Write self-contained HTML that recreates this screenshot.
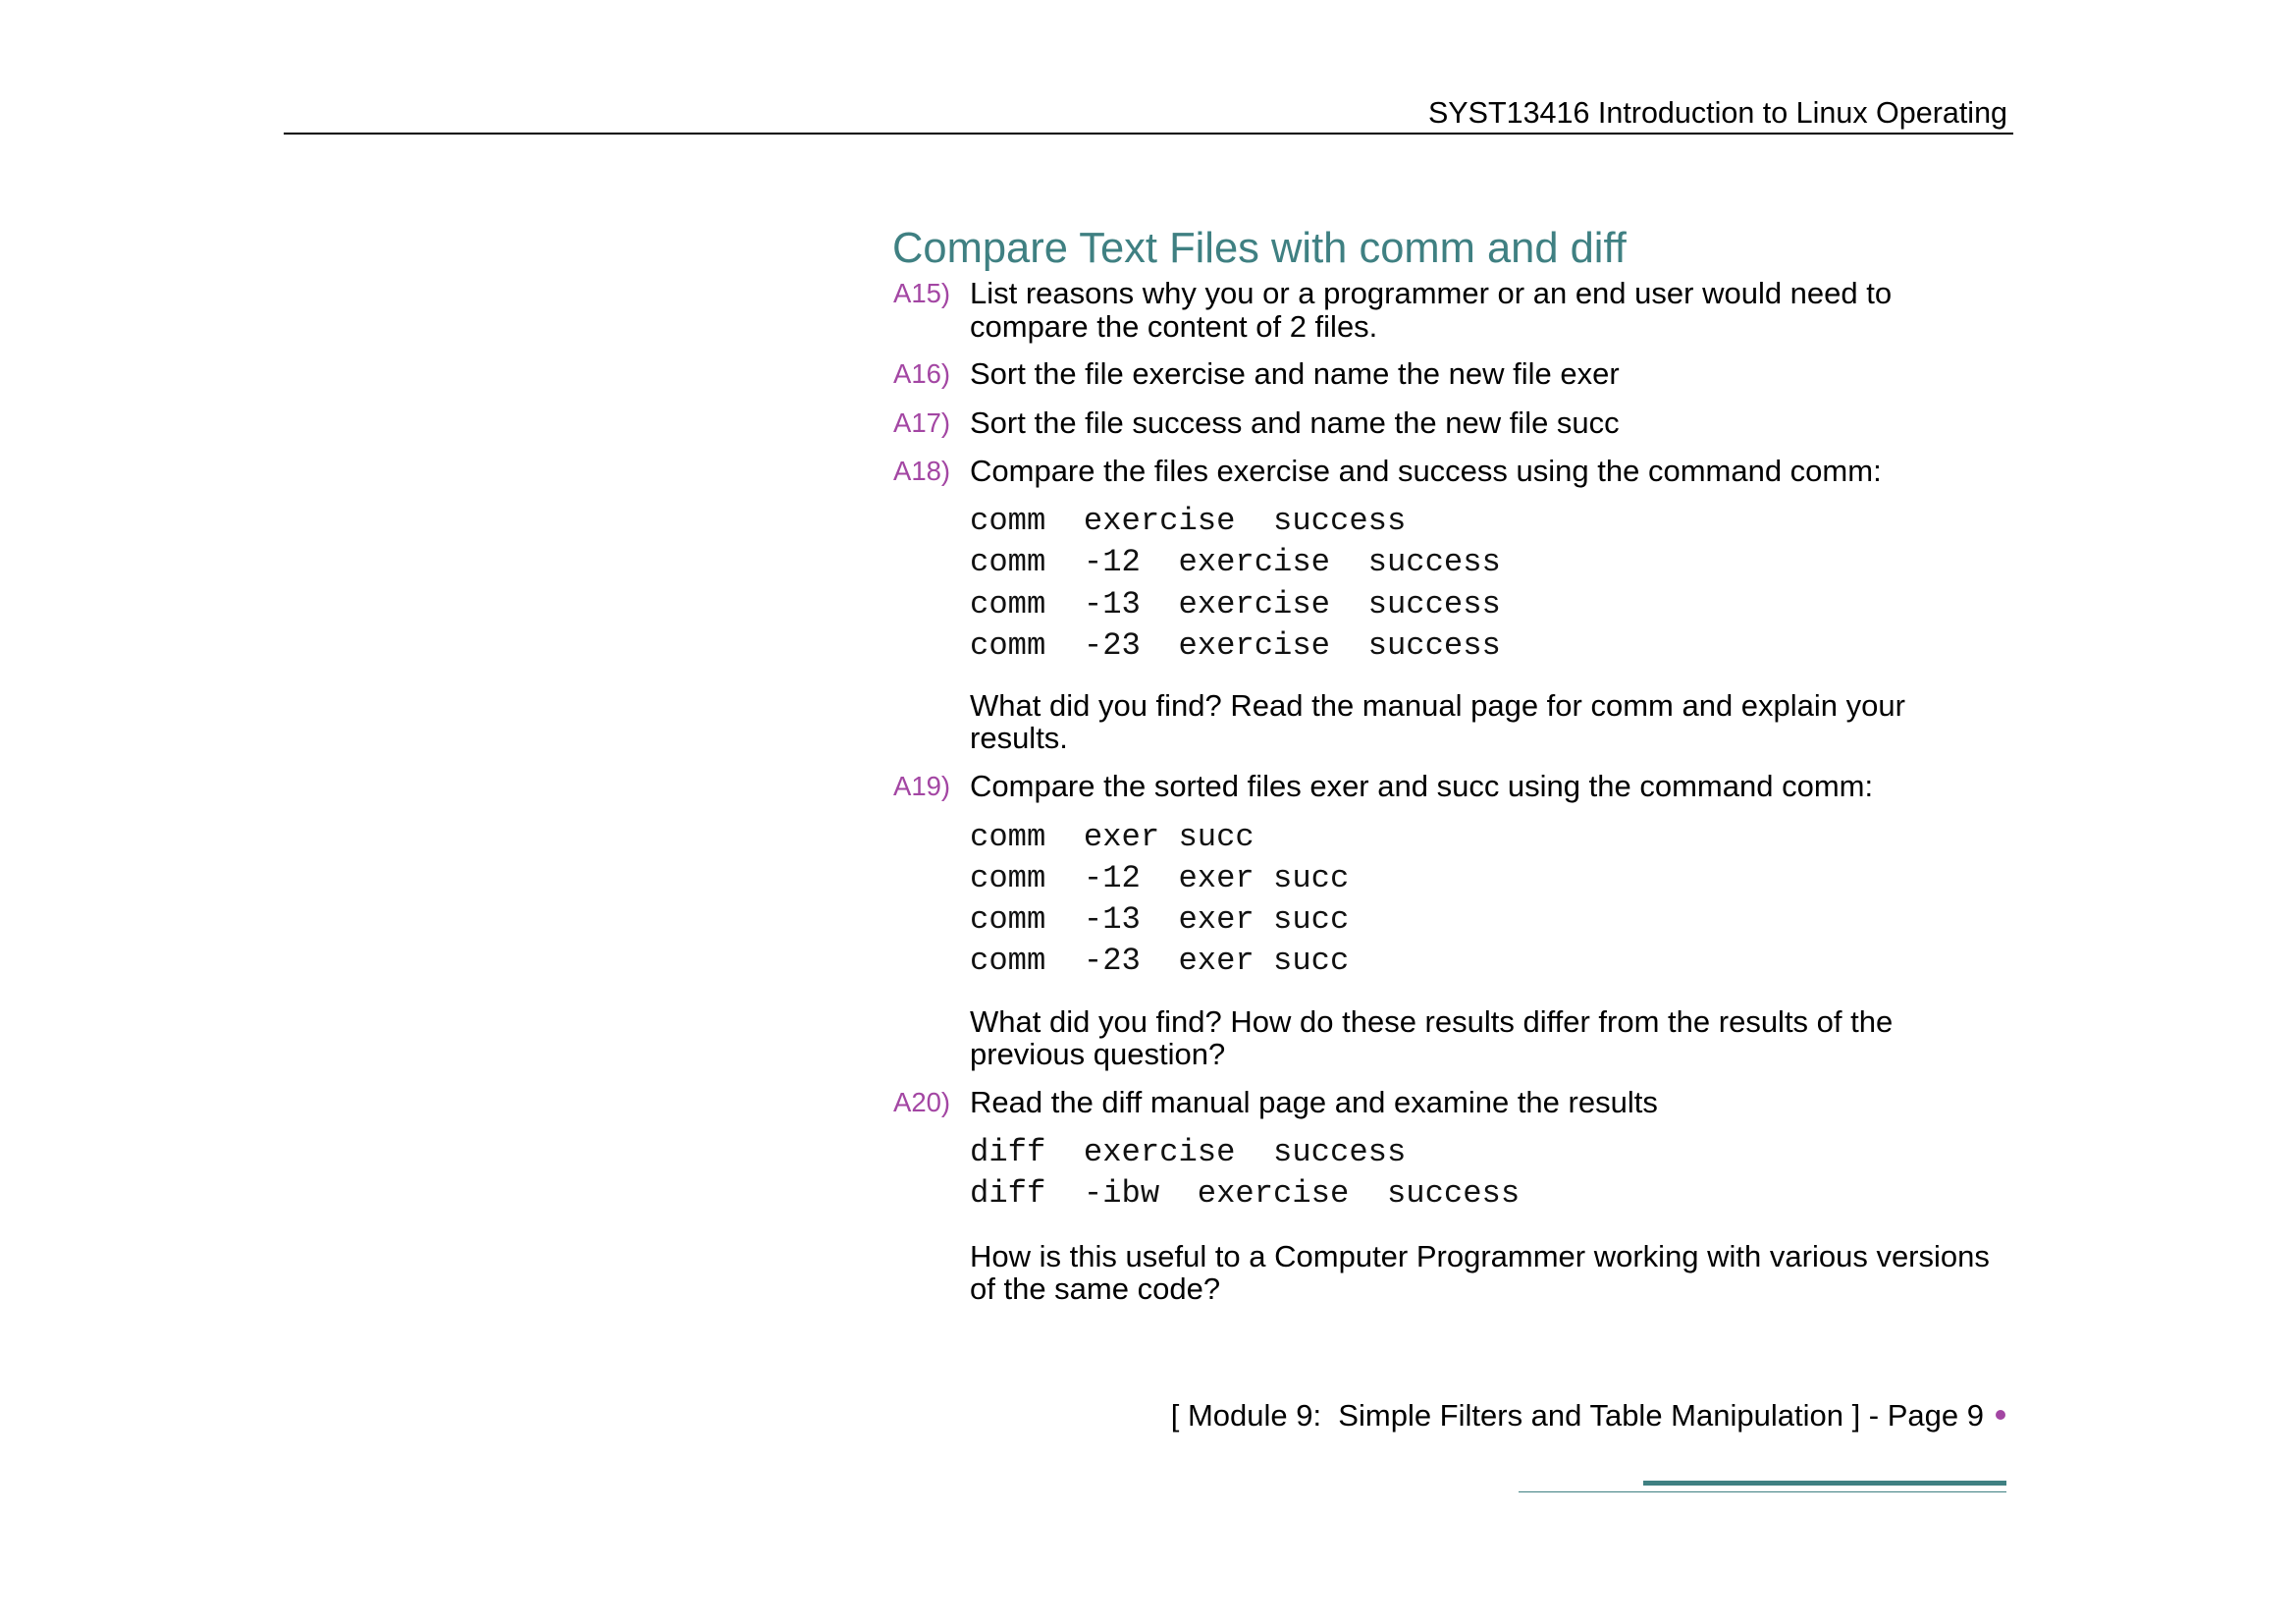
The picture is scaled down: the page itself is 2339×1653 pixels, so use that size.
<!DOCTYPE html>
<html><head><meta charset="utf-8"><style>
html,body{margin:0;padding:0;background:#fff}
body{width:2339px;height:1653px;position:relative;overflow:hidden;font-family:"Liberation Sans","DejaVu Sans",sans-serif;color:#000}
.a{position:absolute;white-space:pre;line-height:34px}
.t{left:988px;font-size:31px}
.l{left:910px;font-size:27.5px;color:#a346a3}
.m{left:988px;font-family:"Liberation Mono","DejaVu Sans Mono",monospace;font-size:32.2px;color:#111}
</style></head><body>
<div class="a" style="right:294px;top:98px;font-size:30.5px">SYST13416 Introduction to Linux Operating</div>
<div style="position:absolute;left:289px;top:135px;width:1762px;height:2px;background:#000"></div>
<div class="a" style="left:909px;top:228px;font-size:43.5px;line-height:50px;color:#3f8082">Compare Text Files with comm and diff</div>

<div class="a l" style="top:282px">A15)</div>
<div class="a t" style="top:282px">List reasons why you or a programmer or an end user would need to</div>
<div class="a t" style="top:316px">compare the content of 2 files.</div>
<div class="a l" style="top:364px">A16)</div>
<div class="a t" style="top:364px">Sort the file exercise and name the new file exer</div>
<div class="a l" style="top:414px">A17)</div>
<div class="a t" style="top:414px">Sort the file success and name the new file succ</div>
<div class="a l" style="top:463px">A18)</div>
<div class="a t" style="top:463px">Compare the files exercise and success using the command comm:</div>
<div class="a m" style="top:514px">comm  exercise  success</div>
<div class="a m" style="top:556px">comm  -12  exercise  success</div>
<div class="a m" style="top:599px">comm  -13  exercise  success</div>
<div class="a m" style="top:641px">comm  -23  exercise  success</div>
<div class="a t" style="top:702px">What did you find? Read the manual page for comm and explain your</div>
<div class="a t" style="top:735px">results.</div>
<div class="a l" style="top:784px">A19)</div>
<div class="a t" style="top:784px">Compare the sorted files exer and succ using the command comm:</div>
<div class="a m" style="top:836px">comm  exer succ</div>
<div class="a m" style="top:878px">comm  -12  exer succ</div>
<div class="a m" style="top:920px">comm  -13  exer succ</div>
<div class="a m" style="top:962px">comm  -23  exer succ</div>
<div class="a t" style="top:1024px">What did you find? How do these results differ from the results of the</div>
<div class="a t" style="top:1057px">previous question?</div>
<div class="a l" style="top:1106px">A20)</div>
<div class="a t" style="top:1106px">Read the diff manual page and examine the results</div>
<div class="a m" style="top:1157px">diff  exercise  success</div>
<div class="a m" style="top:1199px">diff  -ibw  exercise  success</div>
<div class="a t" style="top:1263px">How is this useful to a Computer Programmer working with various versions</div>
<div class="a t" style="top:1296px">of the same code?</div>

<div class="a" style="right:318px;top:1425px;font-size:31px">[ Module 9:  Simple Filters and Table Manipulation ] - Page 9</div>
<div style="position:absolute;left:2033px;top:1436px;width:10px;height:10px;border-radius:50%;background:#a346a3"></div>
<div style="position:absolute;left:1674px;top:1508px;width:370px;height:5px;background:#3f8082"></div>
<div style="position:absolute;left:1547px;top:1519px;width:497px;height:1px;background:#3f8082"></div>
</body></html>
